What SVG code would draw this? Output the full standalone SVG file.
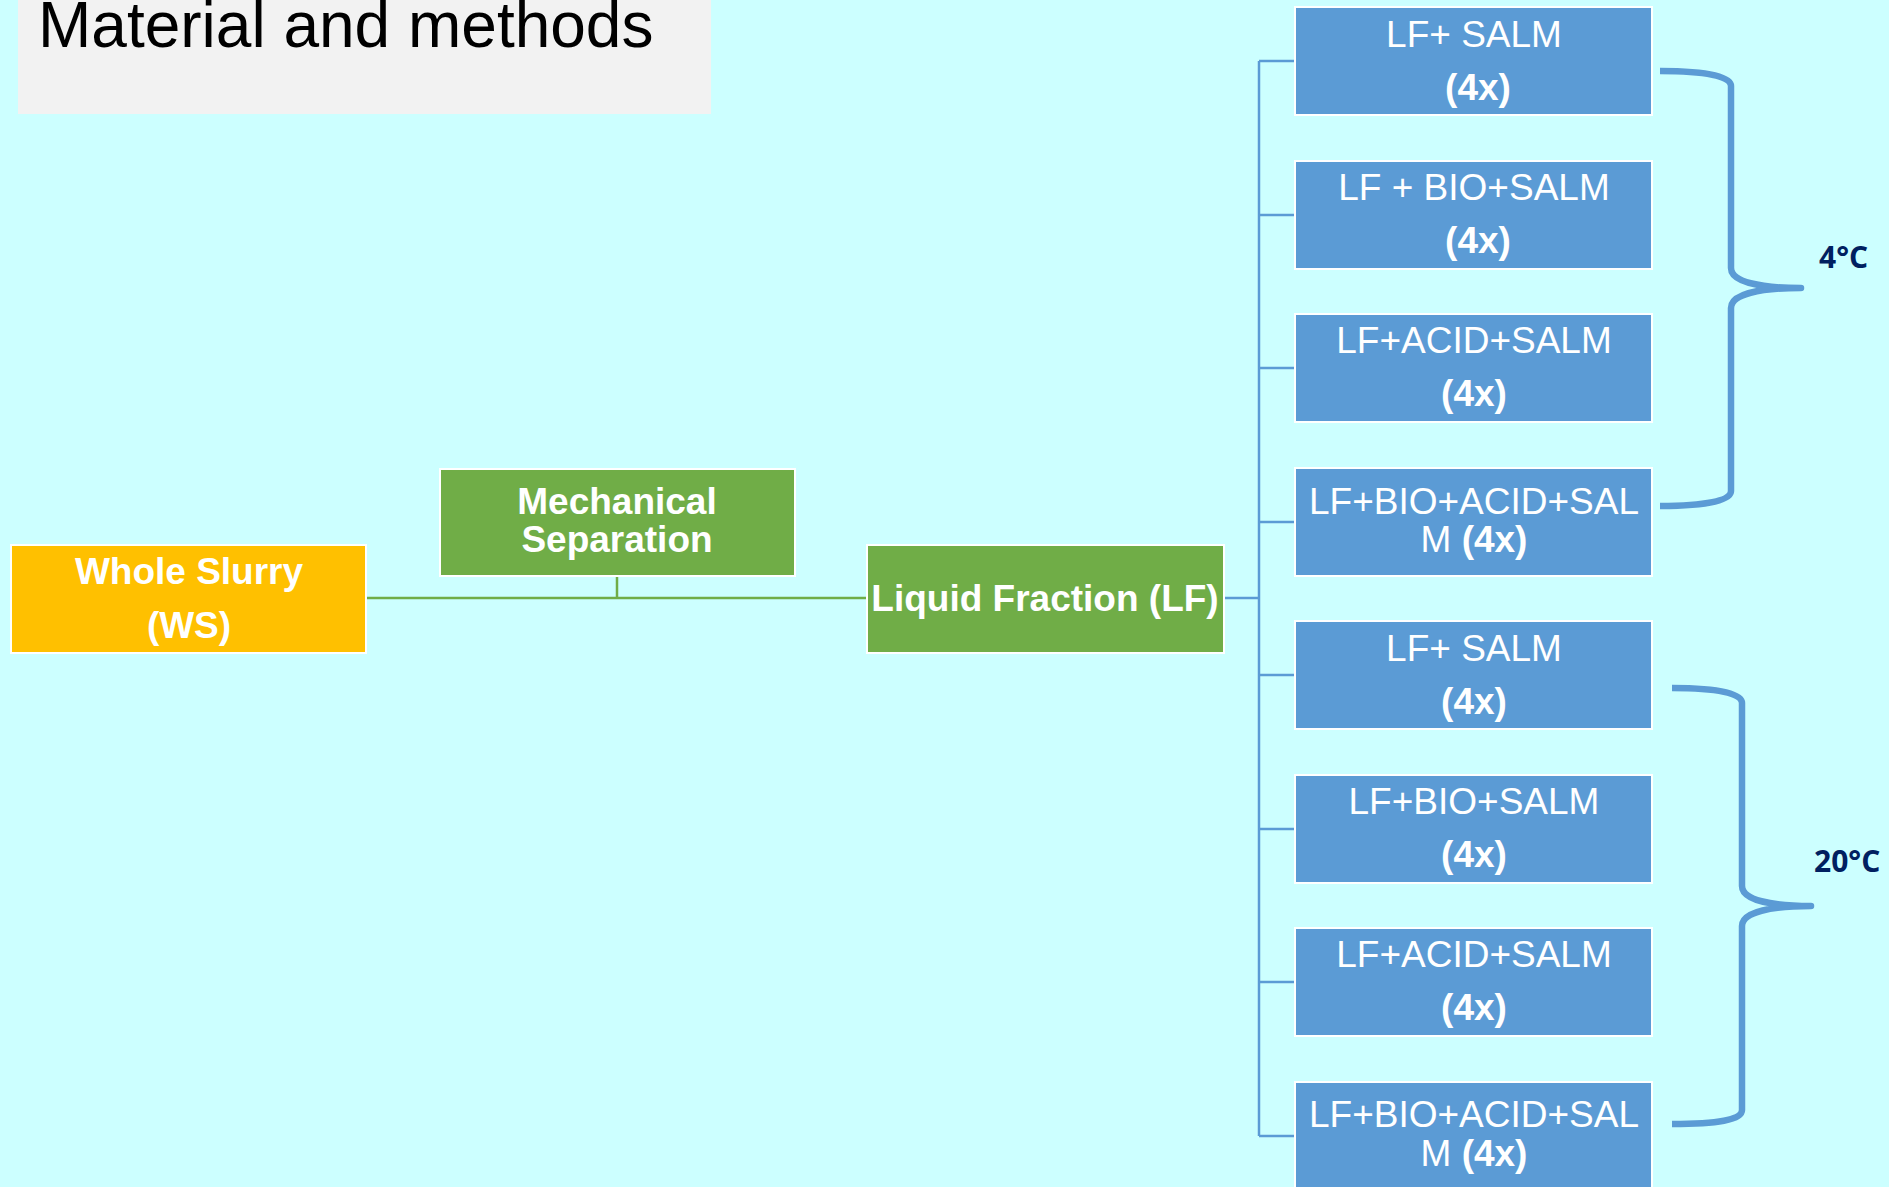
<svg xmlns="http://www.w3.org/2000/svg" width="1889" height="1187" viewBox="0 0 1889 1187">
  <style>
    .bg { fill: #CCFFFF; }
    .green { fill: #70AD47; stroke: #FFFFFF; stroke-width: 2; }
    .yellow { fill: #FFC000; stroke: #FFFFFF; stroke-width: 2; }
    .blue { fill: #5B9BD5; stroke: #FFFFFF; stroke-width: 2; }
    .t { font-family: "Liberation Sans", Arial, sans-serif; font-size: 37px; fill: #FFFFFF; text-anchor: middle; }
    .b { font-weight: bold; }
    .gline { fill: none; stroke: #70AD47; stroke-width: 2.5; }
    .bline { fill: none; stroke: #5B9BD5; stroke-width: 2.5; }
    .brace { fill: none; stroke: #5B9BD5; stroke-width: 6.5; stroke-linejoin: round; }
    .temp { font-family: "Open Sans", "Noto Sans", sans-serif; font-weight: bold; font-size: 30px; fill: #002060; }
  </style>
  <rect class="bg" x="0" y="0" width="1889" height="1187"/>

  <g id="title">
    <rect x="18" y="0" width="693" height="114" fill="#F2F2F2"/>
    <text x="38" y="47" font-family="Liberation Sans, Arial, sans-serif" font-size="64" fill="#000000">Material and methods</text>
  </g>

  <g id="connectors">
    <path class="gline" d="M366 598 H867"/>
    <path class="gline" d="M617 576 V598"/>
    <path class="bline" d="M1224 598 H1259"/>
    <path class="bline" d="M1259 61 V1136"/>
    <path class="bline" d="M1259 61 H1295 M1259 215 H1295 M1259 368 H1295 M1259 522 H1295 M1259 675 H1295 M1259 829 H1295 M1259 982 H1295 M1259 1136 H1295"/>
  </g>

  <g id="ws">
    <rect class="yellow" x="11" y="545" width="355" height="108"/>
    <text class="t b" x="189" y="584">Whole Slurry</text>
    <text class="t b" x="189" y="638">(WS)</text>
  </g>

  <g id="mech">
    <rect class="green" x="440" y="469" width="355" height="107"/>
    <text class="t b" x="617" y="514">Mechanical</text>
    <text class="t b" x="617" y="552">Separation</text>
  </g>

  <g id="lf">
    <rect class="green" x="867" y="545" width="357" height="108"/>
    <text class="t b" x="1045" y="611">Liquid Fraction (LF)</text>
  </g>

  <g id="b1">
    <rect class="blue" x="1295" y="7" width="357" height="108"/>
    <text class="t" x="1474" y="47">LF+ SALM</text>
    <text class="t b" x="1478" y="100">(4x)</text>
  </g>
  <g id="b2">
    <rect class="blue" x="1295" y="161" width="357" height="108"/>
    <text class="t" x="1474" y="200">LF + BIO+SALM</text>
    <text class="t b" x="1478" y="253">(4x)</text>
  </g>
  <g id="b3">
    <rect class="blue" x="1295" y="314" width="357" height="108"/>
    <text class="t" x="1474" y="353">LF+ACID+SALM</text>
    <text class="t b" x="1474" y="406">(4x)</text>
  </g>
  <g id="b4">
    <rect class="blue" x="1295" y="468" width="357" height="108"/>
    <text class="t" x="1474" y="514">LF+BIO+ACID+SAL</text>
    <text class="t" x="1474" y="552">M <tspan class="b">(4x)</tspan></text>
  </g>
  <g id="b5">
    <rect class="blue" x="1295" y="621" width="357" height="108"/>
    <text class="t" x="1474" y="661">LF+ SALM</text>
    <text class="t b" x="1474" y="714">(4x)</text>
  </g>
  <g id="b6">
    <rect class="blue" x="1295" y="775" width="357" height="108"/>
    <text class="t" x="1474" y="814">LF+BIO+SALM</text>
    <text class="t b" x="1474" y="867">(4x)</text>
  </g>
  <g id="b7">
    <rect class="blue" x="1295" y="928" width="357" height="108"/>
    <text class="t" x="1474" y="967">LF+ACID+SALM</text>
    <text class="t b" x="1474" y="1020">(4x)</text>
  </g>
  <g id="b8">
    <rect class="blue" x="1295" y="1082" width="357" height="108"/>
    <text class="t" x="1474" y="1127">LF+BIO+ACID+SAL</text>
    <text class="t" x="1474" y="1166">M <tspan class="b">(4x)</tspan></text>
  </g>

  <g id="brace4">
    <path class="brace" d="M1660 71 C1705 71 1731 76 1731 86 V268 C1731 282 1760 288 1801 288 C1760 288 1731 294 1731 308 V491 C1731 501 1705 506 1660 506"/>
    <text class="temp" x="1819" y="268">4°C</text>
  </g>
  <g id="brace20">
    <path class="brace" d="M1672 688 C1717 688 1742 693 1742 703 V886 C1742 900 1771 906 1811 906 C1771 906 1742 912 1742 926 V1110 C1742 1120 1717 1124 1672 1124"/>
    <text class="temp" x="1814" y="872">20°C</text>
  </g>
</svg>
